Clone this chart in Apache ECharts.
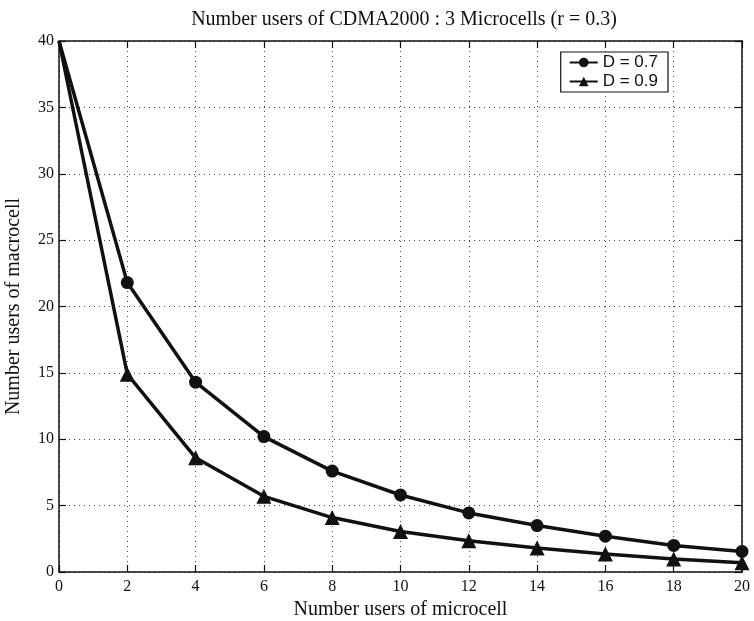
<!DOCTYPE html>
<html>
<head>
<meta charset="utf-8">
<script src="https://cdn.jsdelivr.net/npm/echarts@6/dist/echarts.min.js"></script>
<style>
  html, body { margin: 0; padding: 0; background: #fff; }
  #chart { width: 754px; height: 621px; }
</style>
</head>
<body>
<div id="chart"></div>
<script>
// Microcell user counts on the horizontal axis
const microUsers = [0, 2, 4, 6, 8, 10, 12, 14, 16, 18, 20];
// Supported macrocell users for each distance setting
const macroD07 = [40, 21.8, 14.3, 10.2, 7.6, 5.8, 4.45, 3.5, 2.7, 2.0, 1.55];
const macroD09 = [40, 14.9, 8.6, 5.7, 4.1, 3.05, 2.35, 1.8, 1.35, 0.98, 0.7];
const seriesNames = ['D = 0.7', 'D = 0.9'];

const serif = 'Liberation Serif';
const ink = '#111';

const chart = echarts.init(document.getElementById('chart'));

const frameAxis = {
  axisLine: { show: true, onZero: false, lineStyle: { color: ink, width: 1.5 } },
  axisTick: { show: true, inside: true, length: 7, lineStyle: { color: ink, width: 1.2 } },
  axisLabel: { show: false },
  splitLine: { show: false }
};

// the shared starting point at zero microcell users carries no marker
const toPoints = (vals, symbolSize) => microUsers.map((x, i) => (
  i === 0 ? { value: [x, vals[i]], symbol: 'none' } : { value: [x, vals[i]], symbolSize }
));

chart.setOption({
  animation: false,
  backgroundColor: '#fff',
  title: {
    text: 'Number users of CDMA2000 : 3 Microcells (r = 0.3)',
    left: 399, top: 5, textAlign: 'center',
    textStyle: { fontFamily: serif, fontSize: 20, fontWeight: 'normal', color: ink }
  },
  legend: {
    right: 86, top: 52,
    orient: 'vertical',
    backgroundColor: '#fff',
    borderColor: ink, borderWidth: 1.2, borderRadius: 0,
    padding: [2, 10, 2, 8],
    itemGap: 2,
    itemWidth: 28, itemHeight: 12,
    textStyle: { fontFamily: 'Liberation Sans', fontSize: 17, lineHeight: 16, color: ink },
    data: seriesNames
  },
  grid: { left: 59, right: 12, top: 41, bottom: 49, containLabel: false, outerBoundsMode: 'none' },
  xAxis: [
    {
      type: 'value', min: 0, max: 20, interval: 2,
      name: 'Number users of microcell', nameLocation: 'middle', nameGap: 25,
      nameTextStyle: { fontFamily: serif, fontSize: 20, color: ink },
      axisLine: { show: true, onZero: false, lineStyle: { color: ink, width: 1.5 } },
      axisTick: { show: true, inside: true, length: 7, lineStyle: { color: ink, width: 1.2 } },
      axisLabel: { fontFamily: serif, fontSize: 16, color: ink, margin: 7 },
      splitLine: { show: true, lineStyle: { color: '#444', type: [1, 4], width: 1 } }
    },
    Object.assign({ type: 'value', min: 0, max: 20, interval: 2, position: 'top' }, frameAxis)
  ],
  yAxis: [
    {
      type: 'value', min: 0, max: 40, interval: 5,
      name: 'Number users of macrocell', nameLocation: 'middle', nameGap: 35,
      nameTextStyle: { fontFamily: serif, fontSize: 20, color: ink },
      axisLine: { show: true, onZero: false, lineStyle: { color: ink, width: 1.5 } },
      axisTick: { show: true, inside: true, length: 7, lineStyle: { color: ink, width: 1.2 } },
      axisLabel: { fontFamily: serif, fontSize: 16, color: ink, margin: 5 },
      splitLine: { show: true, lineStyle: { color: '#444', type: [1, 4], width: 1 } }
    },
    Object.assign({ type: 'value', min: 0, max: 40, interval: 5, position: 'right' }, frameAxis)
  ],
  series: [
    {
      name: seriesNames[0], type: 'line',
      data: toPoints(macroD07, 13),
      symbol: 'circle', symbolSize: 13,
      lineStyle: { color: ink, width: 3.5 },
      itemStyle: { color: ink },
      z: 3
    },
    {
      name: seriesNames[1], type: 'line',
      data: toPoints(macroD09, 15),
      symbol: 'triangle', symbolSize: 15,
      lineStyle: { color: ink, width: 3.5 },
      itemStyle: { color: ink },
      z: 3
    }
  ]
});
</script>
</body>
</html>
